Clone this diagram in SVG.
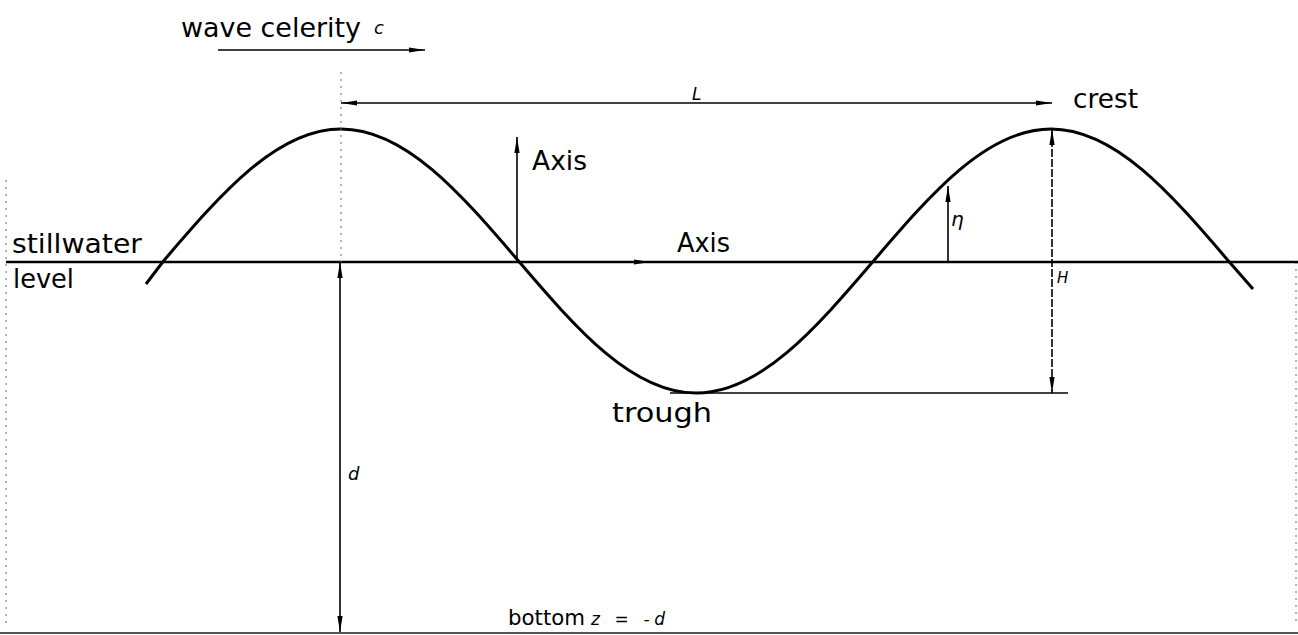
<svg xmlns="http://www.w3.org/2000/svg" width="1298" height="635" viewBox="0 0 1298 635">
<defs>
<marker id="ah" viewBox="0 0 16 6" refX="16" refY="3" markerWidth="16" markerHeight="6" markerUnits="userSpaceOnUse" orient="auto-start-reverse">
<path d="M0,0.4 L16,3 L0,5.6 Z" fill="#000"/>
</marker>
</defs>
<style>
.t{font-family:"DejaVu Sans","Liberation Sans",sans-serif;font-size:27px;fill:#000}
.i{font-family:"DejaVu Sans","Liberation Sans",sans-serif;font-style:italic;fill:#000}
.ln{stroke:#000;stroke-width:1.6;fill:none}
.dim{stroke:#000;stroke-width:1.6;fill:none;marker-end:url(#ah)}
.dim2{stroke:#000;stroke-width:1.6;fill:none;marker-start:url(#ah);marker-end:url(#ah)}
.dash{stroke:#666;stroke-width:1;fill:none;stroke-dasharray:2 5}
</style>
<rect width="1298" height="635" fill="#fff"/>

<g id="frame">
<line x1="0" y1="633" x2="1298" y2="633" stroke="#555" stroke-width="2"/>
<line x1="6" y1="180" x2="6" y2="625" class="dash"/>
<line x1="1296" y1="262" x2="1296" y2="625" class="dash"/>
</g>

<g id="stillwater-level">
<line x1="6" y1="262" x2="1298" y2="262" stroke="#000" stroke-width="2.6"/>
<text class="t" x="12" y="253" textLength="130" lengthAdjust="spacingAndGlyphs">stillwater</text>
<text class="t" x="13" y="288" textLength="61" lengthAdjust="spacingAndGlyphs">level</text>
</g>

<g id="wave">
<path d="M146,284 L163.5,261 C221.4,193.4 276.8,129 341,129 C405.2,129 460.6,193.4 518.5,261 C576.4,328.6 631.8,393 696,393 C760.2,393 815.6,328.6 873.5,261 C931.4,193.4 986.8,129 1051,129 C1115.2,129 1170.6,193.4 1228.5,261 L1253,289" stroke="#000" stroke-width="3" fill="none" stroke-linejoin="round"/>
</g>

<g id="connectors">
<line x1="218" y1="50" x2="425" y2="50" class="dim"/>
<line x1="341" y1="72" x2="341" y2="262" class="dash"/>
<line x1="341" y1="103" x2="1052" y2="103" class="dim2"/>
<line x1="340" y1="262" x2="340" y2="632" class="dim2"/>
<line x1="517" y1="262" x2="517" y2="137" class="dim"/>
<line x1="600" y1="262" x2="650" y2="262" class="dim"/>
<line x1="948" y1="262" x2="948" y2="186" class="dim"/>
<line x1="1052" y1="129" x2="1052" y2="393" class="dim2" stroke-dasharray="8 2"/>
<line x1="670" y1="393" x2="1068" y2="393" class="ln"/>
</g>

<g id="celerity">
<text class="t" x="181" y="37" textLength="180" lengthAdjust="spacingAndGlyphs">wave celerity</text>
<text class="i" x="374" y="34" font-size="18">c</text>
</g>
<g id="wavelength"><text class="i" x="692" y="100" font-size="17">L</text></g>
<g id="crest"><text class="t" x="1073" y="108" textLength="65" lengthAdjust="spacingAndGlyphs">crest</text></g>
<g id="axis-vertical"><text class="t" x="532" y="170" textLength="55" lengthAdjust="spacingAndGlyphs">Axis</text></g>
<g id="axis-horizontal"><text class="t" x="677" y="252" textLength="53" lengthAdjust="spacingAndGlyphs">Axis</text></g>
<g id="eta"><text class="i" x="951" y="226" font-size="20">η</text></g>
<g id="height"><text class="i" x="1057" y="283" font-size="15">H</text></g>
<g id="trough"><text class="t" x="612" y="422" textLength="100" lengthAdjust="spacingAndGlyphs">trough</text></g>
<g id="depth"><text class="i" x="348" y="480" font-size="18">d</text></g>
<g id="bottom">
<text class="t" x="508" y="625" style="font-size:22px" textLength="77" lengthAdjust="spacingAndGlyphs">bottom</text>
<text class="i" x="591" y="625" font-size="17" textLength="74" lengthAdjust="spacing">z = -d</text>
</g>
</svg>
